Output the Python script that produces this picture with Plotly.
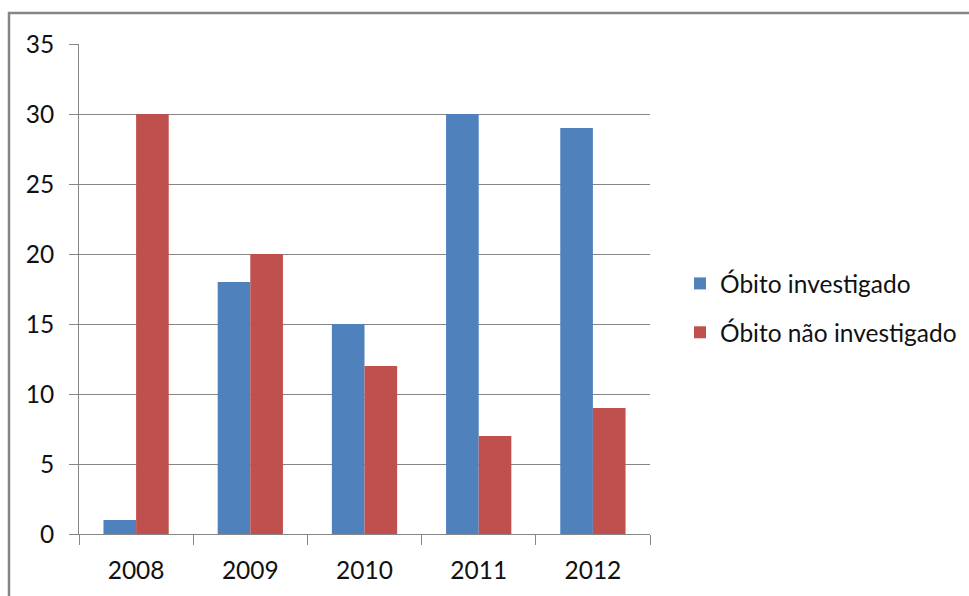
import plotly.graph_objects as go

# Annual counts of deaths, split by investigation status
years = ["2008", "2009", "2010", "2011", "2012"]
investigado = [1, 18, 15, 30, 29]
nao_investigado = [30, 20, 12, 7, 9]
y_ticks = [0, 5, 10, 15, 20, 25, 30, 35]

W, H = 969, 596
ML, MR, MT, MB = 79, 319, 44, 62
PW, PH = W - ML - MR, H - MT - MB

AXIS_GRAY = "#868686"
FONT = dict(family="Lato, Carlito, Calibri, sans-serif", size=24.5, color="#111111")

fig = go.Figure()
fig.add_trace(go.Bar(x=years, y=investigado, name="Óbito investigado",
                     marker=dict(color="#4F81BD", line=dict(width=0)),
                     legendgroup="a"))
fig.add_trace(go.Bar(x=years, y=nao_investigado, name="Óbito não investigado",
                     marker=dict(color="#C0504D", line=dict(width=0)),
                     legendgroup="b"))

def px_x(p):
    return (p - ML) / PW

def px_y(p):
    return (H - MB - p) / PH

# Outer chart frame (top and left edges visible)
fig.add_shape(type="path",
              path=f"M {px_x(9)},{px_y(H + 10)} L {px_x(9)},{px_y(13)} L {px_x(W + 10)},{px_y(13)}",
              xref="paper", yref="paper",
              line=dict(color=AXIS_GRAY, width=2.5))

fig.update_layout(
    width=W, height=H,
    margin=dict(l=ML, r=MR, t=MT, b=MB, autoexpand=False),
    paper_bgcolor="white", plot_bgcolor="white",
    font=FONT,
    barmode="group", bargap=0.4286, bargroupgap=0,
    showlegend=True,
    legend=dict(x=px_x(680), y=px_y(261), xanchor="left", yanchor="top",
                font=FONT, tracegroupgap=14, traceorder="grouped",
                itemwidth=30, bgcolor="rgba(0,0,0,0)"),
    xaxis=dict(type="category", showline=True, linecolor=AXIS_GRAY, linewidth=1,
               ticks="outside", tickson="boundaries", ticklen=10,
               tickcolor=AXIS_GRAY, tickwidth=1, showgrid=False,
               tickfont=FONT, zeroline=False, ticklabelstandoff=15),
    yaxis=dict(range=[0, 35], tickvals=y_ticks, showline=True, linecolor=AXIS_GRAY,
               linewidth=1, ticks="outside", ticklen=9, tickcolor=AXIS_GRAY,
               tickwidth=1, showgrid=True, gridcolor=AXIS_GRAY, gridwidth=1,
               zeroline=False, tickfont=FONT, ticklabelstandoff=10),
)

fig.write_html("out.html")
